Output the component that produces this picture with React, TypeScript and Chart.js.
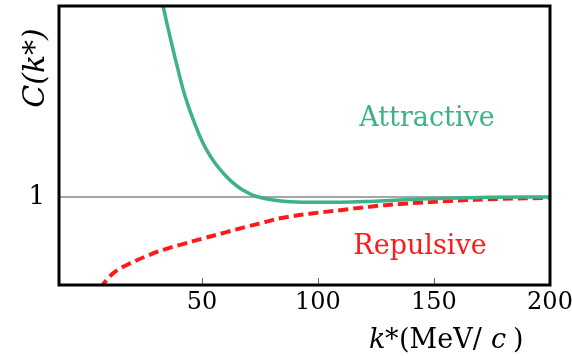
import React, { useEffect, useRef } from 'react';
import { Chart, registerables } from 'chart.js';
Chart.register(...registerables);

const greenK = [32, 33.3, 35.5, 37.6, 39.8, 41.9, 44.1, 46.3, 49.2, 52.0, 55.6, 59.2, 62.8, 66.4, 70.0, 73.6, 80.7, 87.9, 95.1, 109.5, 122.4, 135.3, 148.3, 169.8, 200];
const greenC = [1.465, 1.4325, 1.381, 1.334, 1.287, 1.244, 1.207, 1.175, 1.137, 1.107, 1.077, 1.054, 1.035, 1.020, 1.009, 1.001, 0.993, 0.989, 0.988, 0.988, 0.990, 0.993, 0.996, 0.999, 1.0];
const redK = [6.5, 7.5, 9.5, 11.8, 15.2, 19.0, 25.8, 33.3, 41.8, 50.6, 59.8, 69.3, 76.5, 83.6, 96.5, 109.5, 122.4, 135.3, 156.9, 178.4, 200];
const redC = [0.792, 0.802, 0.815, 0.827, 0.839, 0.849, 0.865, 0.880, 0.893, 0.906, 0.919, 0.9325, 0.942, 0.9516, 0.962, 0.970, 0.978, 0.984, 0.991, 0.9955, 0.998];
const xTickValues = [50, 100, 150, 200];
const innerTickValues = [50, 100, 150];
const yTickValues = [1];
const xMin = -11.6;
const xMax = 200;
const yMin = 0.8;
const yMax = 1.434;

const GREEN = '#3db18c';
const RED = '#ff1a1a';
const SERIF = '"DejaVu Serif", serif';

export default function App() {
  const ref = useRef<HTMLCanvasElement | null>(null);
  useEffect(() => {
    if (!ref.current) return;
    const decor = {
      id: 'decor',
      afterDraw(chart: any) {
        const { ctx, chartArea } = chart;
        const { left, right, top, bottom } = chartArea;
        const xs = chart.scales.x;
        ctx.save();
        ctx.strokeStyle = '#666';
        ctx.lineWidth = 1;
        innerTickValues.forEach((v) => {
          const px = Math.round(xs.getPixelForValue(v)) + 0.5;
          ctx.beginPath();
          ctx.moveTo(px, bottom - 7);
          ctx.lineTo(px, bottom);
          ctx.stroke();
        });
        ctx.strokeStyle = '#000';
        ctx.lineWidth = 3;
        ctx.strokeRect(left, top, right - left, bottom - top);
        ctx.textBaseline = 'alphabetic';
        ctx.textAlign = 'center';
        ctx.font = `27px ${SERIF}`;
        ctx.fillStyle = GREEN;
        ctx.fillText('Attractive', 427, 126);
        ctx.fillStyle = RED;
        ctx.fillText('Repulsive', 420, 254);
        ctx.fillStyle = '#000';
        ctx.textAlign = 'left';
        ctx.font = `italic 27px ${SERIF}`;
        ctx.fillText('k', 369, 348);
        ctx.font = `27px ${SERIF}`;
        ctx.fillText('*', 385, 348);
        ctx.fillText('(MeV/', 399, 348);
        ctx.font = `italic 27px ${SERIF}`;
        ctx.fillText('c', 491, 348);
        ctx.font = `27px ${SERIF}`;
        ctx.fillText(')', 513, 348);
        ctx.translate(44, 68);
        ctx.rotate(-Math.PI / 2);
        ctx.textAlign = 'center';
        ctx.font = `italic 30px ${SERIF}`;
        ctx.fillText('C(k*)', 0, 0);
        ctx.restore();
      },
    };
    const chart = new Chart(ref.current, {
      type: 'line',
      data: {
        datasets: [
          {
            label: 'Attractive',
            data: greenK.map((k, i) => ({ x: k, y: greenC[i] })),
            borderColor: GREEN,
            borderWidth: 3.5,
            pointRadius: 0,
            tension: 0.4,
            borderJoinStyle: 'round',
            fill: false,
          },
          {
            label: 'Repulsive',
            data: redK.map((k, i) => ({ x: k, y: redC[i] })),
            borderColor: RED,
            borderWidth: 4,
            borderDash: [10, 5],
            pointRadius: 0,
            tension: 0.4,
            fill: false,
          },
        ],
      },
      options: {
        animation: false,
        responsive: false,
        layout: { padding: { top: 6, right: 22, left: 0, bottom: 0 } },
        plugins: { legend: { display: false }, tooltip: { enabled: false } },
        scales: {
          x: {
            type: 'linear',
            min: xMin,
            max: xMax,
            afterBuildTicks: (s: any) => {
              s.ticks = xTickValues.map((v) => ({ value: v }));
            },
            afterFit: (s: any) => {
              s.height = 71;
              s.paddingLeft = 0;
              s.paddingRight = 0;
            },
            grid: { display: true, drawOnChartArea: false, drawTicks: false },
            border: { display: false },
            ticks: {
              color: '#000',
              font: { family: SERIF, size: 24 },
              padding: 3,
              maxRotation: 0,
              autoSkip: false,
            },
          },
          y: {
            type: 'linear',
            min: yMin,
            max: yMax,
            afterBuildTicks: (s: any) => {
              s.ticks = yTickValues.map((v) => ({ value: v }));
            },
            afterFit: (s: any) => {
              s.width = 59;
              s.paddingTop = 0;
              s.paddingBottom = 0;
            },
            grid: { display: true, drawOnChartArea: true, drawTicks: false, color: '#a6a6a6', lineWidth: 2 },
            border: { display: false },
            ticks: {
              color: '#000',
              font: { family: SERIF, size: 26 },
              padding: 14,
            },
          },
        },
      },
      plugins: [decor],
    } as any);
    return () => chart.destroy();
  }, []);
  return (
    <div style={{ position: 'absolute', left: 0, top: 0, width: 572, height: 356, background: '#fff' }}>
      <canvas ref={ref} width={572} height={356} />
    </div>
  );
}
